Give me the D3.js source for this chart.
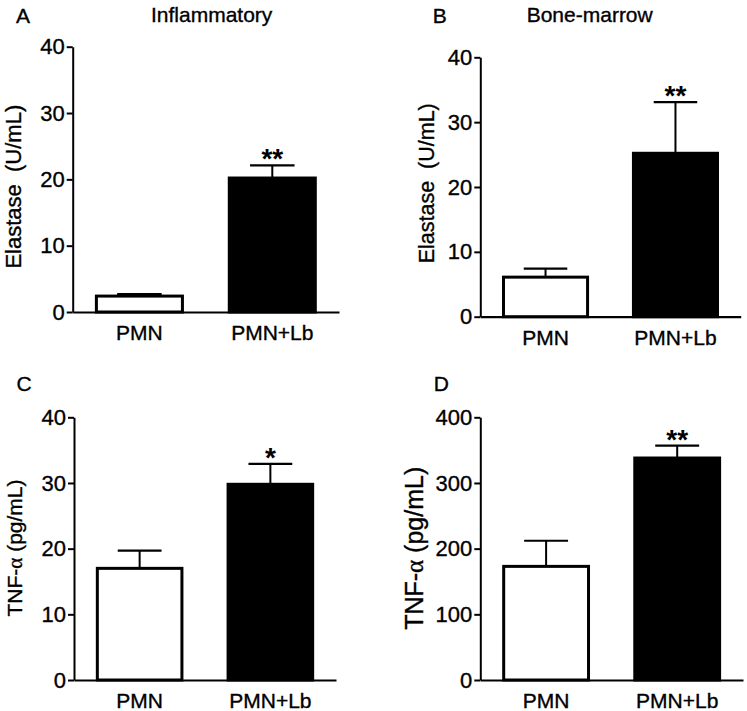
<!DOCTYPE html>
<html>
<head>
<meta charset="utf-8">
<script src="https://cdn.jsdelivr.net/npm/d3@7"></script>
<style>
  html, body { margin: 0; padding: 0; background: #fff; }
  svg { display: block; }
  text { font-family: "Liberation Sans", Arial, sans-serif; fill: #000; stroke: #000; stroke-width: 0.35px; }
</style>
</head>
<body>
<svg id="chart" width="747" height="711"></svg>
<script>
// ---- data ----
const categories = ["PMN", "PMN+Lb"];
const elastaseInflammatory = [2.4, 20.2];
const elastaseInflammatoryErr = [0.3, 1.9];
const elastaseBoneMarrow = [6.1, 25.2];
const elastaseBoneMarrowErr = [1.3, 7.9];
const tnfInflammatory = [17.0, 29.8];
const tnfInflammatoryErr = [2.7, 3.1];
const tnfBoneMarrow = [173, 338];
const tnfBoneMarrowErr = [39, 19];
const starsA = ["", "**"];
const starsB = ["", "**"];
const starsC = ["", "*"];
const starsD = ["", "**"];
const ticks40 = [0, 10, 20, 30, 40];
const ticks400 = [0, 100, 200, 300, 400];
const fills = ["#ffffff", "#000000"];

// ---- layout ----
const panels = [
  { letter: "A", title: "Inflammatory", values: elastaseInflammatory, errs: elastaseInflammatoryErr, stars: starsA,
    ticks: ticks40, max: 40, label: "Elastase\u00a0\u00a0(U/mL)", alpha: false,
    x0: 72.7, x1: 339, y0: 312, y1: 46.7, labX: 21, labY: 186.7, labSize: 22,
    letterX: 23, letterY: 22.5, titleX: 211.7, titleY: 21.7 },
  { letter: "B", title: "Bone-marrow", values: elastaseBoneMarrow, errs: elastaseBoneMarrowErr, stars: starsB,
    ticks: ticks40, max: 40, label: "Elastase\u00a0\u00a0(U/mL)", alpha: false,
    x0: 480.3, x1: 740.7, y0: 316.7, y1: 57.3, labX: 434, labY: 183.3, labSize: 21.5,
    letterX: 439.7, letterY: 22.5, titleX: 589.7, titleY: 21.7 },
  { letter: "C", title: "", values: tnfInflammatory, errs: tnfInflammatoryErr, stars: starsC,
    ticks: ticks40, max: 40, label: "", alpha: true,
    x0: 74, x1: 336, y0: 680, y1: 417.3, labX: 21.7, labY: 548, labSize: 21,
    letterX: 24, letterY: 391, titleX: 0, titleY: 0 },
  { letter: "D", title: "", values: tnfBoneMarrow, errs: tnfBoneMarrowErr, stars: starsD,
    ticks: ticks400, max: 400, label: "", alpha: true,
    x0: 480.3, x1: 743, y0: 680, y1: 417.3, labX: 423, labY: 548.3, labSize: 25,
    letterX: 441.3, letterY: 391, titleX: 0, titleY: 0 }
];

const svg = d3.select("#chart");

panels.forEach(p => {
  const g = svg.append("g");
  const x = d3.scaleBand().domain(categories).range([p.x0, p.x1]).paddingInner(0.33).paddingOuter(0.167);
  const y = d3.scaleLinear().domain([0, p.max]).range([p.y0, p.y1]);
  const bw = x.bandwidth();

  // error bars
  categories.forEach((c, i) => {
    const cx = x(c) + bw / 2;
    const top = y(p.values[i] + p.errs[i]);
    g.append("line").attr("x1", cx).attr("x2", cx).attr("y1", y(p.values[i])).attr("y2", top)
      .attr("stroke", "#000").attr("stroke-width", 2);
    g.append("line").attr("x1", cx - bw / 4).attr("x2", cx + bw / 4).attr("y1", top).attr("y2", top)
      .attr("stroke", "#000").attr("stroke-width", 2.2);
    if (p.stars[i]) {
      g.append("text").attr("x", cx).attr("y", top + 3).attr("text-anchor", "middle")
        .attr("font-size", 28).attr("font-weight", "bold").style("stroke-width", "0px").text(p.stars[i]);
    }
  });

  // bars
  g.selectAll("rect.bar").data(categories).join("rect")
    .attr("class", "bar")
    .attr("x", c => x(c) + 1.5)
    .attr("width", bw - 3)
    .attr("y", (c, i) => y(p.values[i]))
    .attr("height", (c, i) => p.y0 - y(p.values[i]))
    .attr("fill", (c, i) => fills[i])
    .attr("stroke", "#000")
    .attr("stroke-width", 3);

  // y axis
  const ya = g.append("g").attr("transform", `translate(${p.x0},0)`)
    .call(d3.axisLeft(y).tickValues(p.ticks).tickSize(6).tickSizeOuter(0).tickPadding(2).tickFormat(d3.format("d")));
  ya.select(".domain").attr("stroke-width", 2);
  ya.selectAll(".tick line").attr("stroke-width", 2);
  ya.selectAll(".tick text").attr("font-size", 22).attr("font-family", "Liberation Sans, Arial, sans-serif");

  // x axis
  const xa = g.append("g").attr("transform", `translate(0,${p.y0})`)
    .call(d3.axisBottom(x).tickSize(0).tickSizeOuter(0).tickPadding(13));
  xa.select(".domain").attr("stroke-width", 2.2);
  xa.selectAll(".tick text").attr("font-size", 21).attr("font-family", "Liberation Sans, Arial, sans-serif");

  // y label
  const lab = g.append("text")
    .attr("transform", `translate(${p.labX},${p.labY}) rotate(-90)`)
    .attr("text-anchor", "middle")
    .attr("font-size", p.labSize);
  if (p.alpha) {
    lab.append("tspan").text("TNF-");
    lab.append("tspan").attr("font-family", "Liberation Serif, serif").text("\u03b1");
    lab.append("tspan").text(" (pg/mL)");
  } else {
    lab.text(p.label);
  }

  // panel letter and title
  g.append("text").attr("x", p.letterX).attr("y", p.letterY).attr("text-anchor", "middle")
    .attr("font-size", 21).text(p.letter);
  if (p.title) {
    g.append("text").attr("x", p.titleX).attr("y", p.titleY).attr("text-anchor", "middle")
      .attr("font-size", 21).text(p.title);
  }
});
</script>
</body>
</html>
